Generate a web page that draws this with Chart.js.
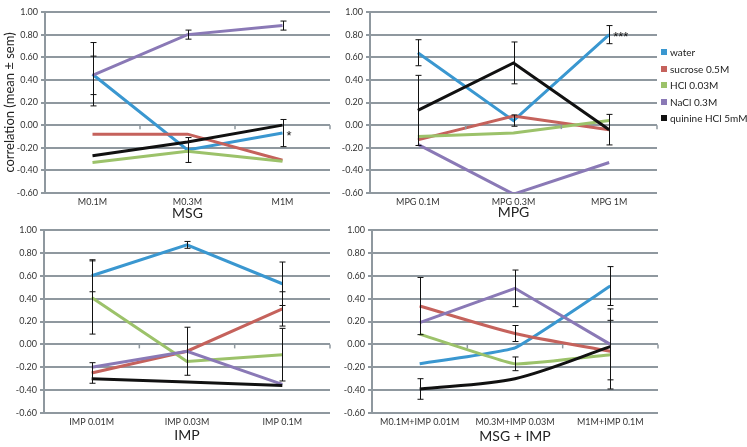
<!DOCTYPE html>
<html><head><meta charset="utf-8">
<script src="https://cdn.jsdelivr.net/npm/chart.js@4/dist/chart.umd.min.js"></script>
<style>
html,body{margin:0;padding:0;background:#fff}
body{width:747px;height:447px;position:relative;overflow:hidden;font-family:Lato,"Liberation Sans",sans-serif}
canvas{position:absolute}
#legend{position:absolute;left:661px;top:44px;font-size:10px;color:#222}
#legend div{height:16.5px;display:flex;align-items:center;white-space:nowrap}
#legend span{display:inline-block;width:6px;height:6px;margin-right:3px}
</style></head><body>
<canvas id="c1" width="335" height="225" style="left:0;top:0"></canvas>
<canvas id="c2" width="342" height="225" style="left:325px;top:0"></canvas>
<canvas id="c3" width="335" height="229" style="left:0;top:218px"></canvas>
<canvas id="c4" width="341" height="229" style="left:327px;top:218px"></canvas>
<div id="legend"></div>
<script>
// ---- data ----
const seriesNames = ['water', 'sucrose 0.5M', 'HCl 0.03M', 'NaCl 0.3M', 'quinine HCl 5mM'];
const seriesColors = ['#3a97d0', '#c5625c', '#9cc26a', '#8a79b6', '#111111'];
const yTicks = [-0.6, -0.4, -0.2, 0, 0.2, 0.4, 0.6, 0.8, 1.0];

const msgLabels = ['M0.1M', 'M0.3M', 'M1M'];
const msgMeans = [
  [0.45, -0.22, -0.07],
  [-0.08, -0.08, -0.31],
  [-0.33, -0.23, -0.32],
  [0.44, 0.80, 0.88],
  [-0.27, -0.15, 0.00]
];
const msgErrors = [
  [0.28, 0.11, 0.12],
  null,
  null,
  [0.17, 0.04, 0.04],
  null
];
const msgMarks = [[null, null, '*'], null, null, null, null];

const mpgLabels = ['MPG 0.1M', 'MPG 0.3M', 'MPG 1M'];
const mpgMeans = [
  [0.64, 0.04, 0.80],
  [-0.13, 0.08, -0.04],
  [-0.10, -0.07, 0.04],
  [-0.17, -0.61, -0.33],
  [0.13, 0.55, -0.04]
];
const mpgErrors = [
  [0.115, 0.05, 0.08],
  null,
  null,
  null,
  [0.31, 0.185, 0.135]
];
const mpgMarks = [[null, null, '***'], null, null, null, null];

const impLabels = ['IMP 0.01M', 'IMP 0.03M', 'IMP 0.1M'];
const impMeans = [
  [0.60, 0.87, 0.53],
  [-0.25, -0.06, 0.31],
  [0.41, -0.15, -0.09],
  [-0.20, -0.06, -0.35],
  [-0.30, -0.33, -0.36]
];
const impErrors = [
  [0.14, 0.03, 0.19],
  [0.09, null, 0.15],
  [0.32, null, 0.23],
  [null, 0.21, null],
  null
];

const mixLabels = ['M0.1M+IMP 0.01M', 'M0.3M+IMP 0.03M', 'M1M+IMP 0.1M'];
const mixMeans = [
  [-0.17, -0.03, 0.51],
  [0.335, 0.095, -0.06],
  [0.09, -0.17, -0.09],
  [0.19, 0.49, 0.00],
  [-0.39, -0.30, -0.02]
];
const mixErrors = [
  [null, null, 0.17],
  [0.25, 0.07, null],
  [null, 0.06, 0.30],
  [null, 0.16, 0.31],
  [0.09, null, null]
];

// ---- styling / plugins ----
Chart.defaults.font.family = 'Lato, "Liberation Sans", sans-serif';
const GRID = '#8f989f';

const extras = {
  id: 'extras',
  afterDatasetsDraw(chart) {
    const ctx = chart.ctx, ys = chart.scales.y;
    const y0 = ys.getPixelForValue(0);
    const n = chart.data.labels.length;
    ctx.save();
    ctx.strokeStyle = GRID; ctx.lineWidth = 1.5;
    for (let i = 1; i <= n; i++) {
      const x = chart.chartArea.left + i * (chart.chartArea.right - chart.chartArea.left) / n;
      ctx.beginPath(); ctx.moveTo(x, y0); ctx.lineTo(x, y0 + 4); ctx.stroke();
    }
    ctx.strokeStyle = '#111'; ctx.lineWidth = 1;
    chart.data.datasets.forEach((ds, di) => {
      if (!ds.errorBars) return;
      const meta = chart.getDatasetMeta(di);
      ds.errorBars.forEach((e, i) => {
        if (e == null) return;
        const x = Math.round(meta.data[i].x) + 0.5;
        const yt = ys.getPixelForValue(ds.data[i] + e);
        const yb = ys.getPixelForValue(ds.data[i] - e);
        ctx.beginPath();
        ctx.moveTo(x, yt); ctx.lineTo(x, yb);
        ctx.moveTo(x - 3, yt); ctx.lineTo(x + 3, yt);
        ctx.moveTo(x - 3, yb); ctx.lineTo(x + 3, yb);
        ctx.stroke();
      });
    });
    ctx.fillStyle = '#111'; ctx.font = '13px "Liberation Sans", sans-serif';
    ctx.textBaseline = 'middle'; ctx.textAlign = 'left';
    chart.data.datasets.forEach((ds, di) => {
      if (!ds.marks) return;
      const meta = chart.getDatasetMeta(di);
      ds.marks.forEach((m, i) => {
        if (!m) return;
        ctx.fillText(m, meta.data[i].x + 4, meta.data[i].y + 3);
      });
    });
    ctx.restore();
  }
};

function makeChart(id, labels, means, errors, marks, opts) {
  const datasets = means.map((vals, i) => ({
    label: seriesNames[i],
    data: vals,
    borderColor: seriesColors[i],
    backgroundColor: seriesColors[i],
    borderWidth: 3,
    pointRadius: 0,
    pointHoverRadius: 0,
    tension: opts.tensions ? opts.tensions[i] : 0,
    order: -i,
    errorBars: errors ? errors[i] : null,
    marks: marks ? marks[i] : null
  }));
  return new Chart(document.getElementById(id), {
    type: 'line',
    data: { labels, datasets },
    plugins: [extras],
    options: {
      responsive: false,
      animation: false,
      devicePixelRatio: 1,
      layout: { padding: { left: 0, right: opts.padRight, top: 12, bottom: 0 } },
      plugins: { legend: { display: false }, tooltip: { enabled: false } },
      scales: {
        x: {
          type: 'category',
          offset: true,
          grid: { display: false, drawTicks: false },
          border: { display: false },
          ticks: { font: { size: 9 }, color: '#333', padding: 4, maxRotation: 0, autoSkip: false },
          title: { display: true, text: opts.title, font: { size: 14 }, color: '#222',
                   padding: { top: 0, bottom: opts.titlePad } },
          afterFit(s) { s.height = opts.xHeight; }
        },
        y: {
          min: -0.6, max: 1.0,
          afterBuildTicks(s) { s.ticks = yTicks.map(v => ({ value: v })); },
          ticks: { font: { size: 9 }, color: '#333', padding: 3,
                   callback: v => (Math.abs(v) < 1e-9 ? 0 : v).toFixed(2) },
          grid: { color: GRID, lineWidth: 2, tickLength: 4, drawTicks: true },
          border: { display: true, color: GRID, width: 2 },
          title: opts.yTitle ? { display: true, text: opts.yTitle, font: { size: 13 }, color: '#222',
                   padding: { top: 2, bottom: 0 } } : { display: false },
          afterFit(s) { s.width = opts.yWidth; }
        }
      }
    }
  });
}

makeChart('c1', msgLabels, msgMeans, msgErrors, msgMarks,
  { title: 'MSG', titlePad: 3.6, xHeight: 32, yWidth: 45, padRight: 5, yTitle: 'correlation (mean ± sem)' });
makeChart('c2', mpgLabels, mpgMeans, mpgErrors, mpgMarks,
  { title: 'MPG', titlePad: 4.6, xHeight: 32, yWidth: 45, padRight: 10 });
makeChart('c3', impLabels, impMeans, impErrors, null,
  { title: 'IMP', titlePad: 3.0, xHeight: 34, yWidth: 44, padRight: 5 });
makeChart('c4', mixLabels, mixMeans, mixErrors, null,
  { title: 'MSG + IMP', titlePad: 2.6, xHeight: 34, yWidth: 45, padRight: 10,
    tensions: [0.1, 0.25, 0.1, 0, 0.3] });

// legend
const leg = document.getElementById('legend');
seriesNames.forEach((n, i) => {
  const row = document.createElement('div');
  const sw = document.createElement('span');
  sw.style.background = seriesColors[i];
  row.appendChild(sw);
  row.appendChild(document.createTextNode(n));
  leg.appendChild(row);
});
</script>
</body></html>
